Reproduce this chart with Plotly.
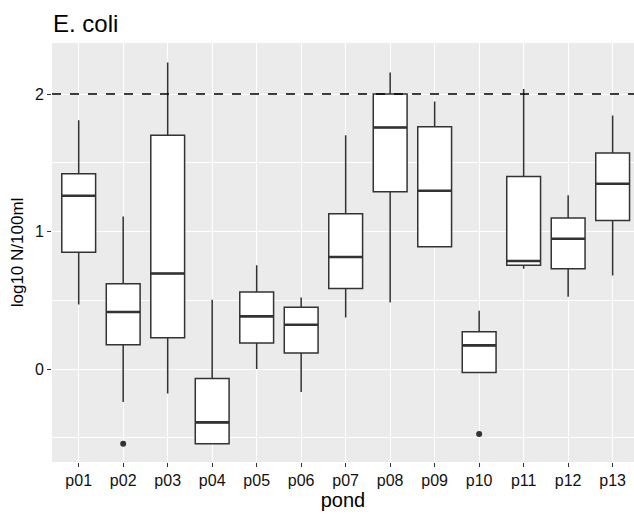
import plotly.graph_objects as go

ponds = ["p01","p02","p03","p04","p05","p06","p07","p08","p09","p10","p11","p12","p13"]
upper = [1.81, 1.11, 2.23, 0.504, 0.754, 0.52, 1.70, 2.157, 1.946, 0.424, 2.036, 1.263, 1.844]
q3    = [1.42, 0.62, 1.70, -0.068, 0.56, 0.45, 1.13, 2.00, 1.762, 0.271, 1.40, 1.098, 1.571]
med   = [1.26, 0.415, 0.695, -0.388, 0.383, 0.322, 0.815, 1.757, 1.297, 0.172, 0.786, 0.948, 1.348]
q1    = [0.85, 0.177, 0.228, -0.543, 0.189, 0.116, 0.586, 1.29, 0.889, -0.025, 0.754, 0.73, 1.081]
lower = [0.47, -0.24, -0.177, -0.543, 0.0, -0.167, 0.375, 0.484, 0.889, -0.025, 0.73, 0.526, 0.681]
out_x = ["p02", "p10"]
out_y = [-0.543, -0.473]
threshold = 2
y_ticks = [0, 1, 2]

line_col = "#333333"
box_w = 0.76

fig = go.Figure()
fig.add_trace(go.Box(
    x=ponds, q1=q1, median=med, q3=q3, lowerfence=lower, upperfence=upper,
    fillcolor="white", line=dict(color=line_col, width=1.5),
    whiskerwidth=0, width=box_w, boxpoints=False, showlegend=False,
    hoverinfo="skip",
))
fig.add_trace(go.Scatter(
    x=out_x, y=out_y, mode="markers",
    marker=dict(color=line_col, size=6), showlegend=False,
))

# thicker median lines (ggplot style)
for i, m in enumerate(med):
    fig.add_shape(type="line", xref="x", yref="y",
                  x0=i - box_w / 2, x1=i + box_w / 2, y0=m, y1=m,
                  line=dict(color=line_col, width=2.6), layer="above")

fig.add_hline(y=threshold, line=dict(color="black", width=1.3, dash="dash"))

fig.update_layout(
    width=634, height=519,
    margin=dict(l=52, r=0, t=43, b=57),
    paper_bgcolor="white", plot_bgcolor="#EBEBEB",
    font=dict(family="Liberation Sans, Arial, sans-serif", color="#1a1a1a"),
    title=dict(text="E. coli", x=53 / 634, xref="container", xanchor="left",
               y=1 - 24 / 519, yref="container", yanchor="middle",
               font=dict(size=24, color="black")),
    showlegend=False,
)
fig.update_xaxes(
    type="category", categoryorder="array", categoryarray=ponds,
    range=[-0.6, 12.48], automargin=False,
    showgrid=True, gridcolor="white", gridwidth=1.4,
    ticks="outside", ticklen=4, tickcolor="#333333", tickwidth=1.2,
    tickfont=dict(size=16, color="#111111"),
    title=dict(text="pond", font=dict(size=20, color="black"), standoff=2),
    zeroline=False, showline=False,
)
fig.update_yaxes(
    range=[-0.676, 2.371], automargin=False,
    tickvals=y_ticks, ticktext=[str(t) for t in y_ticks],
    showgrid=True, gridcolor="white", gridwidth=1.4,
    minor=dict(dtick=0.5, tick0=0.5, showgrid=True, gridcolor="white", gridwidth=0.7),
    ticks="outside", ticklen=4, tickcolor="#333333", tickwidth=1.2,
    tickfont=dict(size=16, color="#111111"),
    title=dict(text="log10 N/100ml", font=dict(size=17, color="black"), standoff=6),
    zeroline=False, showline=False,
)

fig.write_html("out.html", config={"displayModeBar": False},
               post_script="document.body.style.margin='0';")
